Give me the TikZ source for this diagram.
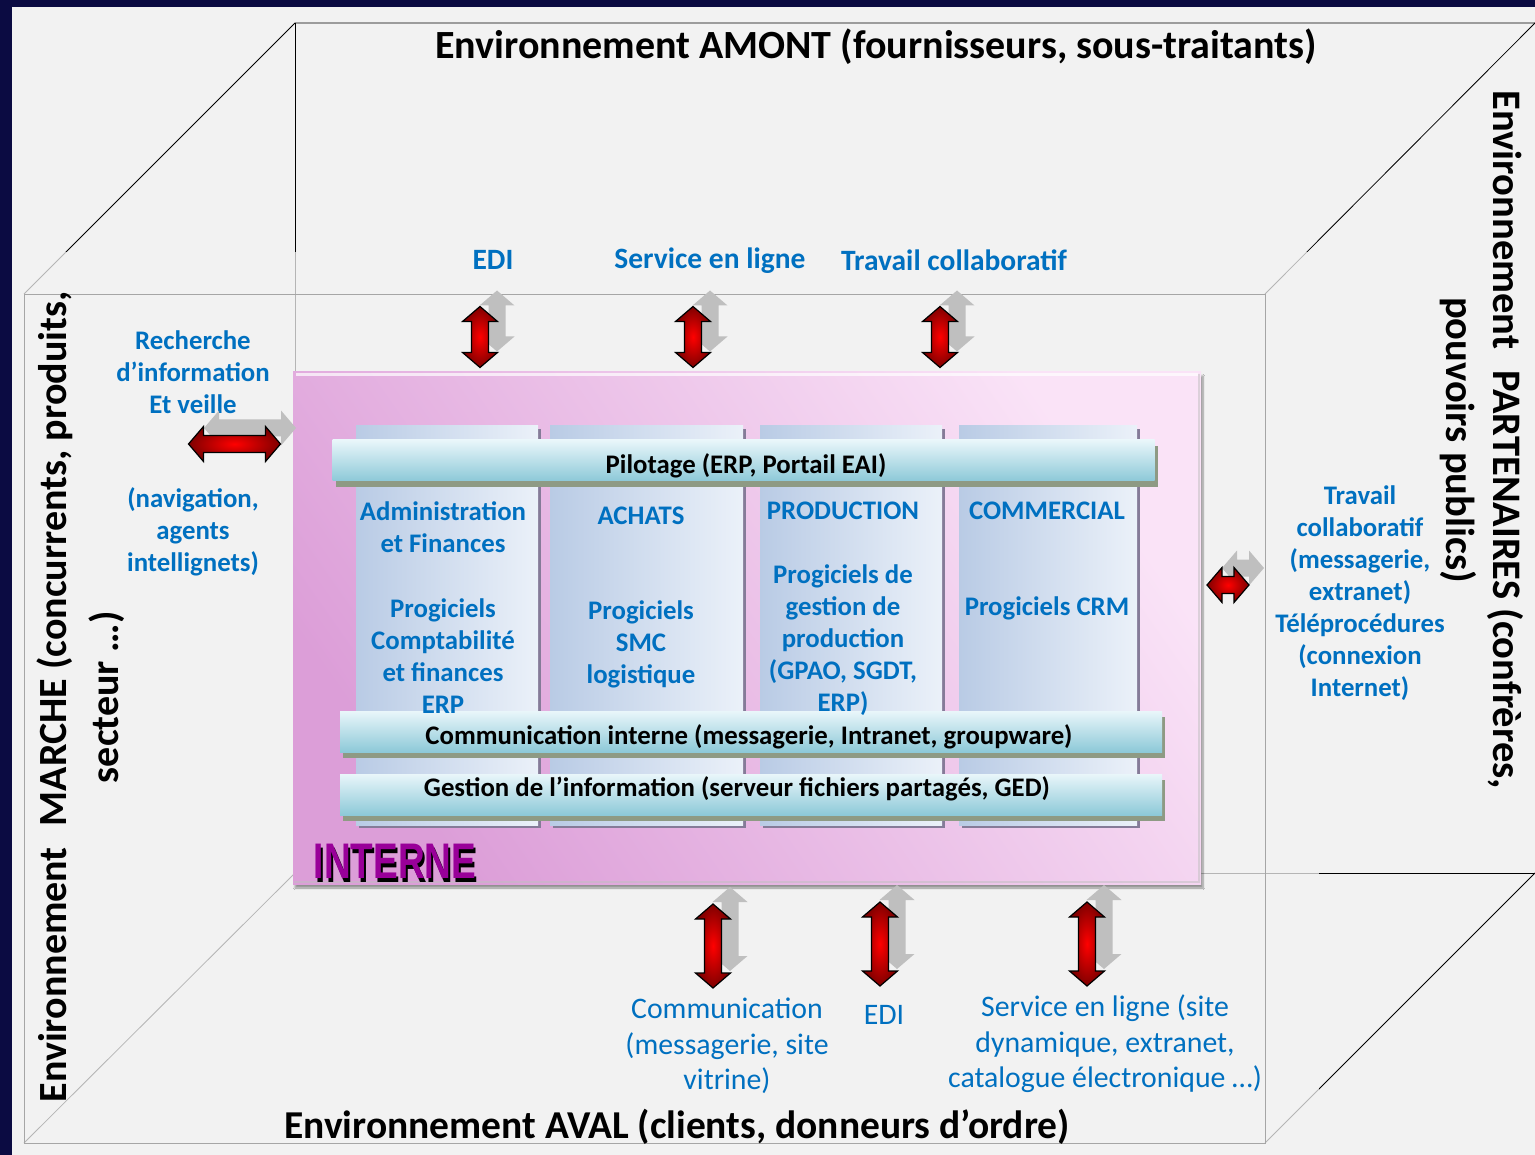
\documentclass[tikz,border=0pt]{standalone}
\usepackage{fontspec}
\setmainfont{Carlito}
\newfontfamily\grasfont{Liberation Sans}
\usetikzlibrary{calc,shadows,shadows.blur}

\definecolor{fondNuit}{HTML}{0B0B42}
\definecolor{fondGris}{HTML}{F2F2F2}
\definecolor{bleuTxt}{HTML}{0070C0}
\definecolor{violetInt}{HTML}{990099}
\definecolor{roseA}{HTML}{DC9ED8}
\definecolor{roseB}{HTML}{FAE3F7}
\definecolor{colA}{HTML}{B9CBE5}
\definecolor{colB}{HTML}{EBF1F9}
\definecolor{colOmbre}{HTML}{857B98}
\definecolor{barA}{HTML}{E9F6FA}
\definecolor{barB}{HTML}{8DC9D8}
\definecolor{barOmbre}{HTML}{8E9A84}
\definecolor{flecheGris}{HTML}{BFBFBF}
\definecolor{traitFace}{HTML}{A6A6A6}

\tikzset{
  coltxt/.style={text=bleuTxt, font=\bfseries\fontsize{26.8}{32}\selectfont, align=center},
  bigtxt/.style={font=\bfseries\fontsize{40}{48}\selectfont, align=center},
  toptxt/.style={text=bleuTxt, font=\bfseries\fontsize{29.5}{34}\selectfont},
  bastxt/.style={text=bleuTxt, font=\fontsize{29.8}{35.5}\selectfont, align=center},
  bartxt/.style={font=\bfseries\fontsize{26.8}{30}\selectfont},
  colbox/.style={inner sep=0pt, minimum width=182pt, minimum height=399pt,
    left color=colA, right color=colB,
    drop shadow={shadow xshift=3pt, shadow yshift=-3pt, fill=colOmbre, opacity=1}},
  barbox/.style={inner sep=0pt, minimum width=822pt, minimum height=41pt,
    top color=barA, bottom color=barB,
    drop shadow={shadow xshift=3pt, shadow yshift=-6pt, fill=barOmbre, opacity=1}},
  flecheRouge/.style={draw=black, line width=1.2pt, line join=miter,
    inner color=red, outer color=red!50!black},
  flecheOmbre/.style={fill=flecheGris},
  arriere/.style={draw=black, line width=0.8pt},
  face/.style={draw=traitFace, line width=0.8pt}
}

% double fleche : style, centre, demi-longueur, angle
\newcommand{\fleche}[4]{%
  \begin{scope}[shift={#2}, rotate=#4]
    \path[#1] (0,-#3) -- (17.5,15-#3) -- (8.5,15-#3) -- (8.5,#3-15) -- (17.5,#3-15) -- (0,#3)
      -- (-17.5,#3-15) -- (-8.5,#3-15) -- (-8.5,15-#3) -- (-17.5,15-#3) -- cycle;
  \end{scope}}

\begin{document}
\begin{tikzpicture}[x=1pt,y=-1pt]
  \useasboundingbox (0,0) rectangle (1535,1155);
  \fill[fondNuit] (0,0) rectangle (1535,1155);
  \fill[fondGris] (12,7) rectangle (1535,1155);

  % face arriere du cube
  \draw[arriere] (24,294) -- (295,23) -- (1535,23);
  \draw[arriere] (295,23) -- (295,873) -- (1535,873);
  \draw[arriere] (1265,294) -- (1535,23);
  \draw[arriere] (24,1143) -- (295,873);
  \draw[arriere] (1265,1143) -- (1535,873);
  \fill[fondGris, opacity=0.75] (12,252) rectangle (1319,1155);
  % face avant
  \draw[face] (24,294) rectangle (1265,1143);

  % titres des environnements
  \node[bigtxt] (amont) at (876,47) {Environnement AMONT (fournisseurs, sous-traitants)};
  \node[bigtxt, font=\bfseries\fontsize{39.5}{48}\selectfont] (aval) at (677,1127) {Environnement AVAL (clients, donneurs d’ordre)};
  \node[bigtxt, font=\bfseries\fontsize{40}{52}\selectfont, rotate=90] (marche) at (81,697)
    {Environnement\hspace{0.3em} MARCHE (concurrents, produits,\\secteur …)};
  \node[bigtxt, font=\bfseries\fontsize{40.5}{47}\selectfont, rotate=-90] (partenaires) at (1482,440)
    {Environnement\hspace{0.3em} PARTENAIRES (confrères,\\pouvoirs publics)};

  % bloc interne
  \node[inner sep=0pt, minimum width=908pt, minimum height=512pt, left color=roseA, right color=roseB,
    shading angle=125,
    blur shadow={shadow xshift=2pt, shadow yshift=-4pt, shadow blur steps=6}] (bloc) at (747,628) {};
  \draw[white, line width=3pt, opacity=0.7] (296,375) -- (1198,375);
  \draw[black!25, line width=2pt, opacity=0.5] (1199,374) -- (1199,882) -- (294,882);

  \node[colbox] (adm) at (447,625.5) {};
  \node[colbox, minimum width=193pt] (ach) at (646.5,625.5) {};
  \node[colbox, minimum width=182pt] (prod) at (851,625.5) {};
  \node[colbox, minimum width=178pt] (com) at (1048,625.5) {};

  \node[barbox] (pilot) at (743.5,460.5) {};
  \node[barbox] (comint) at (751,731.5) {};
  \node[barbox] (ged) at (751,794.5) {};
  \node[bartxt] (pilotT) at ($(pilot)+(2.5,5)$) {Pilotage (ERP, Portail EAI)};
  \node[bartxt] (comintT) at ($(comint)+(-2,5)$) {Communication interne (messagerie, Intranet, groupware)};
  \node[bartxt] (gedT) at ($(ged)+(-14,-6)$) {Gestion de l’information (serveur fichiers partagés, GED)};

  \node[coltxt] (admT) at (443,527.5) {Administration\\et Finances};
  \node[coltxt] (admP) at (443,656) {Progiciels\\Comptabilité\\et finances\\ERP};
  \node[coltxt] (achT) at (641,516) {ACHATS};
  \node[coltxt] (achP) at (641,644) {Progiciels\\SMC\\logistique};
  \node[coltxt] (prodT) at (843,511) {PRODUCTION};
  \node[coltxt] (prodP) at (843,640) {Progiciels de\\gestion de\\production\\(GPAO, SGDT,\\ERP)};
  \node[coltxt] (comT) at (1047,511) {COMMERCIAL};
  \node[coltxt] (comP) at (1047,608) {Progiciels CRM};

  \node[font=\grasfont\bfseries\fontsize{50}{50}\selectfont, xscale=0.74, text=black] (interneOmbre) at (397,865) {INTERNE};
  \node[font=\grasfont\bfseries\fontsize{50}{50}\selectfont, xscale=0.74, text=violetInt] (interne) at (395,861) {INTERNE};

  % echanges amont
  \node[toptxt] (ediH) at (493,260) {EDI};
  \node[toptxt] (servH) at (710,261) {Service en ligne};
  \node[toptxt] (travH) at (954,260) {Travail collaboratif};
  \fleche{flecheOmbre}{(497,321)}{30.5}{0}
  \fleche{flecheRouge}{(480,337)}{30.5}{0}
  \fleche{flecheOmbre}{(710,321)}{30.5}{0}
  \fleche{flecheRouge}{(693,337)}{30.5}{0}
  \fleche{flecheOmbre}{(957,321)}{30.5}{0}
  \fleche{flecheRouge}{(940,337)}{30.5}{0}

  % echanges aval
  \fleche{flecheOmbre}{(730,929)}{42}{0}
  \fleche{flecheRouge}{(713,946)}{42}{0}
  \fleche{flecheOmbre}{(897,927)}{42}{0}
  \fleche{flecheRouge}{(880,944)}{42}{0}
  \fleche{flecheOmbre}{(1104,927)}{42}{0}
  \fleche{flecheRouge}{(1087,944)}{42}{0}
  \node[bastxt] (comB) at (727,1046) {Communication\\(messagerie, site\\vitrine)};
  \node[bastxt] (ediB) at (884,1015) {EDI};
  \node[bastxt] (servB) at (1105,1044) {Service en ligne (site\\dynamique, extranet,\\catalogue électronique …)};

  % echanges marche
  \node[coltxt] (rech) at (193,372) {Recherche\\d’information\\Et veille};
  \node[coltxt] (navig) at (193,532) {(navigation,\\agents\\intellignets)};
  \fleche{flecheOmbre}{(250,428)}{46}{90}
  \fleche{flecheRouge}{(234.5,444)}{46}{90}

  % echanges partenaires
  \fleche{flecheOmbre}{(1243,568)}{21}{90}
  \fleche{flecheRouge}{(1228,585)}{21}{90}
  \node[coltxt] (travD) at (1360,593) {Travail\\collaboratif\\(messagerie,\\extranet)\\Téléprocédures\\(connexion\\Internet)};
\end{tikzpicture}
\end{document}
